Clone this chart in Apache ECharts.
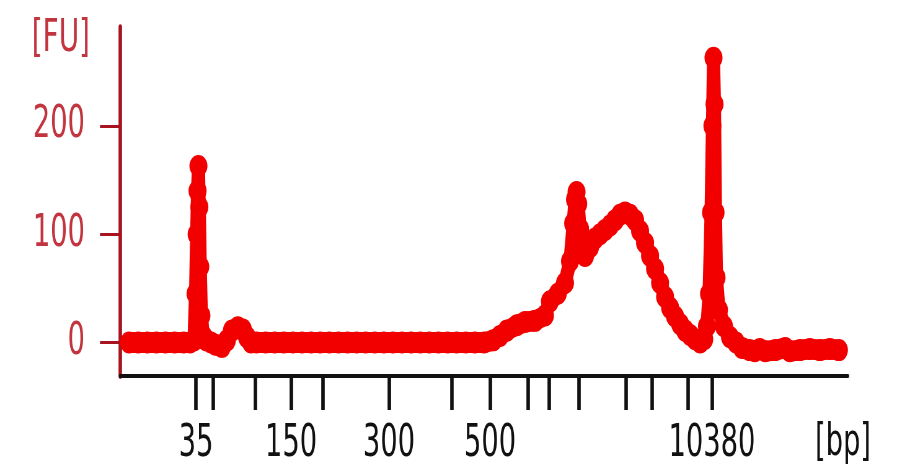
<!DOCTYPE html>
<html>
<head>
<meta charset="utf-8">
<script src="https://cdn.jsdelivr.net/npm/echarts@6/dist/echarts.min.js"></script>
<style>
  html, body { margin: 0; padding: 0; background: #ffffff; overflow: hidden; }
  #frame { width: 897px; height: 474px; overflow: hidden; position: relative; }
  /* The plot is laid out wide and condensed horizontally, which gives the
     tall, narrow lettering and the oval dots of the trace. */
  #chart { height: 474px; position: absolute; left: 0; top: 0; transform-origin: 0 0; }
</style>
</head>
<body>
<div id="frame"><div id="chart"></div></div>
<script>
// Electropherogram: fluorescence [FU] against migration time (s),
// with the ladder fragment sizes marked on the time axis.

// Ladder fragment sizes (bp) and the migration times at which they run.
const ladderSizes = [35, 50, 100, 150, 200, 300, 400, 500, 600, 700, 1000, 2000, 3000, 7000, 10380];
const ladderTimes = [48.35, 50.22, 54.84, 58.79, 62.31, 69.56, 76.48, 80.66, 84.84, 87.14, 90.44, 95.60, 98.46, 102.42, 105.05];
// Sizes that carry a printed label under their tick.
const labeledSizes = [35, 150, 300, 500, 10380];
// Fluorescence axis ticks.
const fuTicks = [0, 100, 200];

// Trace: migration time (s) and fluorescence (FU).
const traceTime = [
  41, 42, 43, 44, 45, 46, 47, 47.7, 48.13, 48.3, 48.42, 48.52, 48.62, 48.72, 48.82, 48.95,
  49.15, 49.5, 50.0, 50.5, 51.2, 51.75, 52.3, 52.95, 53.5, 53.95, 54.4,
  55, 56, 57, 58, 59, 60, 61, 62, 63, 64, 65, 66, 67, 68, 69, 70, 71, 72, 73, 74, 75, 76, 77, 78, 79, 80,
  81.0, 81.75, 82.5, 83.6, 84.5, 85.6, 86.7, 87.25, 88.1, 88.9, 89.45, 89.8, 90.0, 90.17, 90.35,
  90.55, 90.77, 91.1, 91.65, 92.2, 92.75, 93.3, 93.85, 94.4, 94.95, 95.5, 96.05, 96.6, 97.15,
  97.7, 98.25, 98.8, 99.35, 99.9, 100.45, 101.0, 101.55, 102.1, 102.65, 103.2, 103.75,
  104.2, 104.5, 104.73, 104.95, 105.1, 105.22, 105.33, 105.44, 105.55, 105.82, 106.37,
  107.03, 107.69, 108.35, 109.2, 109.75, 110.3, 110.9, 112.0, 113.1, 113.6, 114.7, 115.8,
  116.9, 118.0, 119.0
];
const traceFU = [
  0, 0, 0, 0, 0, 0, 0, 0, 2, 45, 100, 140, 163, 125, 70, 25,
  6, 2, 0, -2, -4, 2, 11, 14, 12, 5, 0,
  0, 0, 0, 0, 0, 0, 0, 0, 0, 0, 0, 0, 0, 0, 0, 0, 0, 0, 0, 0, 0, 0, 0, 0, 0, 0,
  2, 6, 11, 16, 19, 20, 25, 38, 45, 55, 75, 110, 132, 139, 128,
  105, 90, 80, 88, 96, 100, 104, 108, 113, 118, 120, 118, 113, 103,
  92, 80, 68, 55, 42, 32, 24, 17, 11, 7, 3, 0,
  3, 15, 45, 120, 200, 263, 220, 120, 60, 30, 15,
  5, 0, -5, -7, -8, -6, -8, -7, -5, -8, -7, -6,
  -7, -6, -7
];

const traceData = traceTime.map((t, i) => [t, traceFU[i]]);
const labeledTimes = labeledSizes.map(s => ladderTimes[ladderSizes.indexOf(s)]);

function sizeAt(t) {
  let best = 0;
  for (let i = 1; i < ladderTimes.length; i++) {
    if (Math.abs(ladderTimes[i] - t) < Math.abs(ladderTimes[best] - t)) best = i;
  }
  return String(ladderSizes[best]);
}

// Horizontal condensing factor applied to the whole drawing.
const SX = 0.62;
const VIEW_W = 897;
const el = document.getElementById('chart');
el.style.width = Math.round(VIEW_W / SX) + 'px';
el.style.transform = 'scaleX(' + (VIEW_W / Math.round(VIEW_W / SX)) + ')';
const hx = v => v / SX;   // horizontal sizes in on-screen pixels

const FONT = "'DejaVu Sans', Verdana, sans-serif";
const TRACE_RED = '#f20000';
const AXIS_RED = '#a8141e';
const LABEL_RED = '#c2343e';

const chart = echarts.init(el, null, { renderer: 'canvas' });
chart.setOption({
  animation: false,
  backgroundColor: '#ffffff',
  grid: { left: hx(120), right: hx(49), top: 27, bottom: 98 },
  xAxis: {
    type: 'value',
    min: 40,
    max: 120,
    name: '[bp]',
    nameLocation: 'end',
    nameGap: hx(-5),
    nameTextStyle: {
      color: '#111111', fontFamily: FONT, fontSize: 44,
      align: 'center', verticalAlign: 'top', padding: [46, 0, 0, 0]
    },
    axisLine: { show: true, onZero: false, lineStyle: { color: '#111111', width: 4 } },
    axisTick: {
      show: true, customValues: ladderTimes, length: 34,
      lineStyle: { color: '#111111', width: hx(3.5) }
    },
    axisLabel: {
      show: true, customValues: labeledTimes, formatter: v => sizeAt(v),
      margin: 47, color: '#111111', fontFamily: FONT, fontSize: 44
    },
    splitLine: { show: false }
  },
  yAxis: {
    type: 'value',
    min: -30.9,
    max: 291.3,
    name: '[FU]',
    nameLocation: 'end',
    nameGap: 10,
    nameTextStyle: {
      color: LABEL_RED, fontFamily: FONT, fontSize: 45,
      align: 'right', verticalAlign: 'top', padding: [0, hx(30), 0, 0]
    },
    axisLine: { show: true, lineStyle: { color: AXIS_RED, width: hx(3.5) } },
    axisTick: {
      show: true, customValues: fuTicks, length: hx(20),
      lineStyle: { color: AXIS_RED, width: 3 }
    },
    axisLabel: {
      show: true, customValues: fuTicks, margin: hx(35),
      color: LABEL_RED, fontFamily: FONT, fontSize: 44
    },
    splitLine: { show: false }
  },
  series: [{
    type: 'line',
    data: traceData,
    clip: true,
    smooth: false,
    symbol: 'circle',
    symbolSize: [hx(18), 22],
    showSymbol: true,
    showAllSymbol: true,
    itemStyle: { color: TRACE_RED, borderWidth: 0 },
    lineStyle: { color: TRACE_RED, width: 21, join: 'round', cap: 'round' },
    emphasis: { disabled: true }
  }]
});
</script>
</body>
</html>
